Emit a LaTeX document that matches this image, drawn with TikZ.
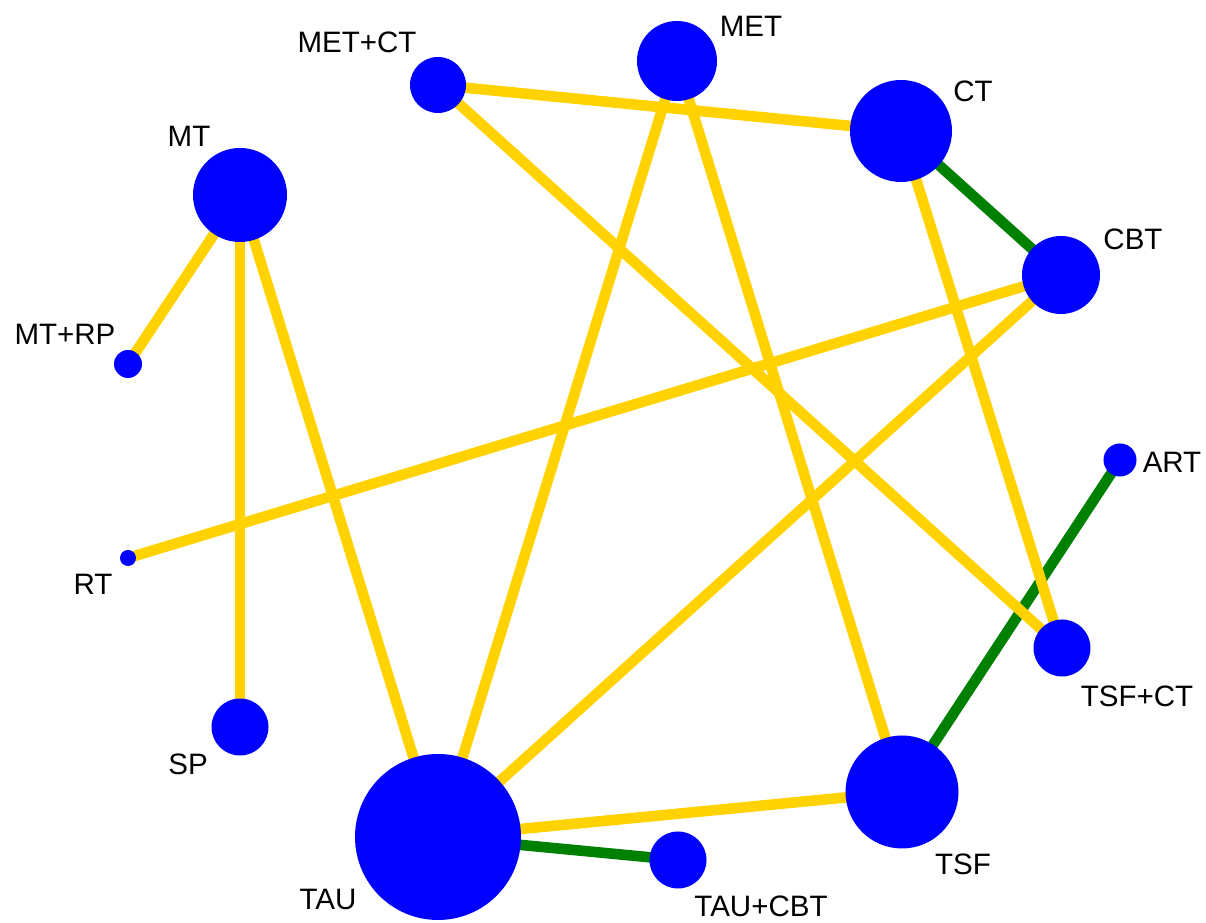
\documentclass[tikz,border=0pt]{standalone}
\usepackage{fontspec}
\setmainfont{Liberation Sans}
\definecolor{nodeblue}{RGB}{0, 0, 255}
\definecolor{edgegold}{RGB}{255, 210, 0}
\definecolor{edgegreen}{RGB}{0, 128, 0}
\usepackage{tikz}
\usetikzlibrary{backgrounds}

\begin{document}
\begin{tikzpicture}[
    trt/.style={circle, fill=nodeblue, inner sep=0pt, minimum size=#1},
    lab/.style={anchor=base, inner sep=0pt, font=\fontsize{21}{25}\selectfont},
    goldedge/.style={edgegold, line width=0.265cm},
    greenedge/.style={edgegreen, line width=0.265cm}
  ]
  \useasboundingbox (0, 0) rectangle (30.15, 23.075);

  % Treatments (size = weight)
  \foreach \n/\x/\y/\d in {METCT/10.95/20.95/1.4, MET/16.925/21.55/2.0, CT/22.525/19.8/2.55,
      CBT/26.525/16.2/1.95, MT/6.0/18.2/2.35, MTRP/3.2/13.975/0.7, RT/3.2/9.125/0.4,
      ART/28.0/11.575/0.825, TSFCT/26.55/6.875/1.425, SP/6.0/4.9/1.425,
      TAU/10.95/2.15/4.15, TSF/22.55/3.275/2.825, TAUCBT/16.95/1.575/1.425} {
    \node[trt=\d cm] (\n) at (\x, \y) {};
  }

  % Labels
  \foreach \n/\t/\x/\y in {METCT/MET+CT/8.925/21.75, MET/MET/18.775/22.15, CT/CT/24.325/20.525,
      CBT/CBT/28.325/16.825, MT/MT/4.725/19.4, MTRP/MT+RP/1.625/14.45, RT/RT/2.325/8.2,
      ART/ART/29.3/11.25, TSFCT/TSF+CT/28.425/5.4, SP/SP/4.7/3.7, TAU/TAU/8.2/0.325,
      TSF/TSF/24.075/1.2, TAUCBT/TAU+CBT/19.025/0.16} {
    \node[lab] (lab-\n) at (\x, \y) {\t};
  }

  % Comparisons
  \begin{scope}[on background layer]
    \foreach \a/\b in {CT/CBT, ART/TSF, TAU/TAUCBT}
      \draw[greenedge] (\a.center) -- (\b.center);
    \foreach \a/\b in {METCT/CT, METCT/TSFCT, MET/TAU, MET/TSF, CT/TSFCT, CBT/RT,
        CBT/TAU, MT/MTRP, MT/SP, MT/TAU, TAU/TSF}
      \draw[goldedge] (\a.center) -- (\b.center);
  \end{scope}
\end{tikzpicture}
\end{document}
